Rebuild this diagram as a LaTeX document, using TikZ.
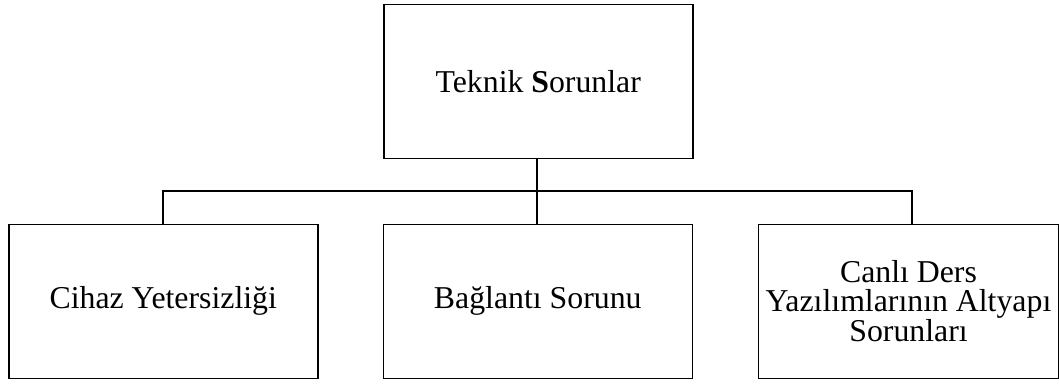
\documentclass[tikz,border=0pt]{standalone}
\usepackage{fontspec}
\setmainfont{Liberation Serif}
\begin{document}
\begin{tikzpicture}[x=1pt,y=-1pt,
  box/.style={draw=black,line width=1.5pt,minimum width=309pt,minimum height=154pt,inner sep=0pt,align=center,font=\fontsize{31.8}{28.6}\selectfont,anchor=north west},
  conn/.style={draw=black,line width=1.5pt}]
\useasboundingbox (0,0) rectangle (1059,383);
\node[box] (top) at (383,3.5) {Teknik \textbf{S}orunlar};
\node[box] (b1) at (8,223.5) {Cihaz Yetersizliği};
\node[box] (b2) at (382.5,223.5) {Bağlantı Sorunu};
\node[box,minimum width=300.5pt] (b3) at (757.5,223.5) {Canlı Ders\\Yazılımlarının Altyapı\\Sorunları};
\coordinate (j) at (537,191);
\draw[conn] (top.south -| j) -- (b2.north -| j);
\draw[conn] (b1.north -| 163,0) -- (163,191) -- (912,191) -- (b3.north -| 912,0);
\end{tikzpicture}
\end{document}
